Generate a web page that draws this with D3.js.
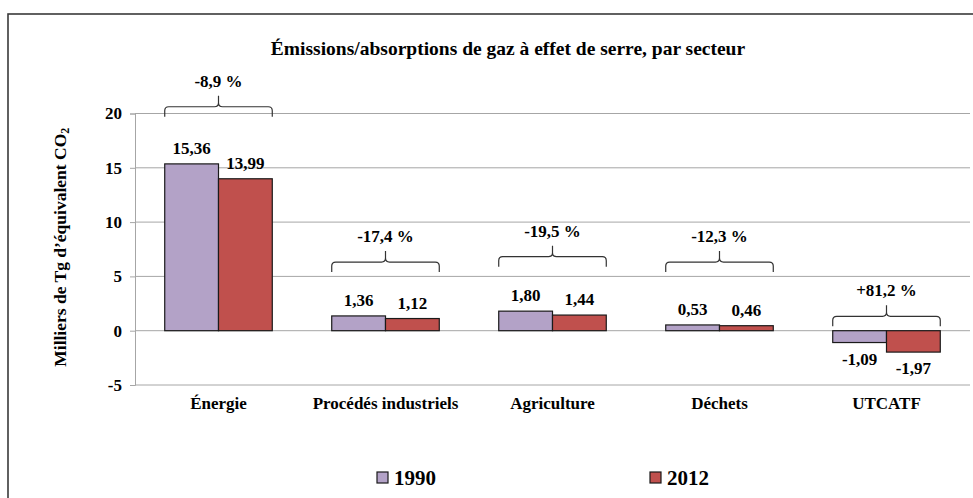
<!DOCTYPE html>
<html>
<head>
<meta charset="utf-8">
<script src="https://cdn.jsdelivr.net/npm/d3@7"></script>
<style>
  body { margin: 0; background: #fff; }
  svg text { font-family: "Liberation Serif", "Times New Roman", "DejaVu Serif", serif; font-weight: bold; fill: #000; }
</style>
</head>
<body>
<div id="chart"></div>
<script>
// data
const sectors = ["Énergie", "Procédés industriels", "Agriculture", "Déchets", "UTCATF"];
const years = ["1990", "2012"];
const values1990 = [15.36, 1.36, 1.80, 0.53, -1.09];
const values2012 = [13.99, 1.12, 1.44, 0.46, -1.97];
const changeLabels = ["-8,9 %", "-17,4 %", "-19,5 %", "-12,3 %", "+81,2 %"];
const bracketLevels = [19.7, 5.4, 5.9, 5.4, 0.4]; // bracket foot, in chart units
const yTicks = [-5, 0, 5, 10, 15, 20];

const W = 973, H = 498;
const plot = { left: 135, right: 970, top: 113.5, bottom: 385 };
const colors = { "1990": "#b3a2c7", "2012": "#c0504d" };
const locale = d3.formatLocale({ decimal: ",", thousands: " ", grouping: [3], currency: ["", " €"], minus: "-" });
const fmt = locale.format(".2f");
const fmtTick = locale.format("d");

const svg = d3.select("#chart").append("svg")
  .attr("width", W)
  .attr("height", H);

svg.append("rect").attr("width", W).attr("height", H).attr("fill", "#fff");

// outer chart border (cropped on the right and bottom)
svg.append("rect")
  .attr("x", 8).attr("y", 14)
  .attr("width", 1020).attr("height", 520)
  .attr("fill", "none")
  .attr("stroke", "#3a3a3a")
  .attr("stroke-width", 1.6);

const x0 = d3.scaleBand()
  .domain(sectors)
  .range([plot.left, plot.right]);

const gap = x0.bandwidth() * 0.178;
const x1 = d3.scaleBand()
  .domain(years)
  .range([gap, x0.bandwidth() - gap]);

const y = d3.scaleLinear()
  .domain([-5, 20])
  .range([plot.bottom, plot.top]);

// gridlines
svg.append("g")
  .selectAll("line")
  .data(yTicks)
  .join("line")
  .attr("x1", plot.left).attr("x2", plot.right)
  .attr("y1", d => y(d)).attr("y2", d => y(d))
  .attr("stroke", "#a6a6a6")
  .attr("stroke-width", 1);

// y axis
const yAxis = svg.append("g")
  .attr("transform", `translate(${plot.left},0)`)
  .call(d3.axisLeft(y).tickValues(yTicks).tickSize(5).tickPadding(8).tickFormat(fmtTick));
yAxis.attr("font-family", null).attr("font-size", null);
yAxis.select(".domain").attr("stroke", "#a6a6a6");
yAxis.selectAll(".tick line").attr("stroke", "#a6a6a6");
yAxis.selectAll(".tick text")
  .attr("font-size", 17)
  .attr("fill", "#000");

// y title
const yTitle = svg.append("text")
  .attr("transform", `translate(66,${(plot.top + plot.bottom) / 2 - 2}) rotate(-90)`)
  .attr("text-anchor", "middle")
  .attr("font-size", 17.5);
yTitle.append("tspan").text("Milliers de Tg d’équivalent CO");
yTitle.append("tspan").attr("font-size", 12).attr("dy", 3).text("2");

// title
svg.append("text")
  .attr("x", 508).attr("y", 55)
  .attr("text-anchor", "middle")
  .attr("font-size", 19.5)
  .text("Émissions/absorptions de gaz à effet de serre, par secteur");

// bars
const rows = sectors.map((s, i) => ({ sector: s, vals: [
  { year: "1990", v: values1990[i] },
  { year: "2012", v: values2012[i] }
]}));

const groups = svg.append("g")
  .selectAll("g")
  .data(rows)
  .join("g")
  .attr("transform", d => `translate(${x0(d.sector)},0)`);

groups.selectAll("rect")
  .data(d => d.vals)
  .join("rect")
  .attr("x", d => x1(d.year))
  .attr("width", x1.bandwidth())
  .attr("y", d => y(Math.max(0, d.v)))
  .attr("height", d => Math.abs(y(d.v) - y(0)))
  .attr("fill", d => colors[d.year])
  .attr("stroke", "#1a1a1a")
  .attr("stroke-width", 1.2);

groups.selectAll("text.val")
  .data(d => d.vals)
  .join("text")
  .attr("class", "val")
  .attr("x", d => x1(d.year) + x1.bandwidth() / 2)
  .attr("y", d => d.v >= 0 ? y(d.v) - 10 : y(d.v) + 22)
  .attr("text-anchor", "middle")
  .attr("font-size", 17)
  .text(d => fmt(d.v));

// category labels
svg.append("g")
  .selectAll("text")
  .data(sectors)
  .join("text")
  .attr("x", d => x0(d) + x0.bandwidth() / 2)
  .attr("y", 409)
  .attr("text-anchor", "middle")
  .attr("font-size", 17)
  .text(d => d);

// change brackets
function bracket(xa, xb, yb) {
  const r = 4, h = 10, t = 11, xm = (xa + xb) / 2, yh = yb - h;
  return `M${xa},${yb} L${xa},${yh + r} Q${xa},${yh} ${xa + r},${yh}` +
    ` L${xm - r},${yh} Q${xm},${yh} ${xm},${yh - r} L${xm},${yh - t}` +
    ` M${xm},${yh - r} Q${xm},${yh} ${xm + r},${yh} L${xb - r},${yh}` +
    ` Q${xb},${yh} ${xb},${yh + r} L${xb},${yb}`;
}

const br = svg.append("g")
  .selectAll("g")
  .data(sectors)
  .join("g");

br.append("path")
  .attr("d", (d, i) => bracket(
    x0(d) + x1("1990"),
    x0(d) + x1("2012") + x1.bandwidth(),
    y(bracketLevels[i])))
  .attr("fill", "none")
  .attr("stroke", "#333")
  .attr("stroke-width", 1.2);

br.append("text")
  .attr("x", d => x0(d) + x0.bandwidth() / 2)
  .attr("y", (d, i) => y(bracketLevels[i]) - 10 - 11 - 9)
  .attr("text-anchor", "middle")
  .attr("font-size", 17)
  .text((d, i) => changeLabels[i]);

// legend
const legend = svg.append("g")
  .selectAll("g")
  .data(years)
  .join("g")
  .attr("transform", (d, i) => `translate(${377 + i * 273},472)`);

legend.append("rect")
  .attr("width", 11).attr("height", 11)
  .attr("fill", d => colors[d])
  .attr("stroke", "#1a1a1a")
  .attr("stroke-width", 1.2);

legend.append("text")
  .attr("x", 17).attr("y", 13)
  .attr("font-size", 21)
  .text(d => d);
</script>
</body>
</html>
